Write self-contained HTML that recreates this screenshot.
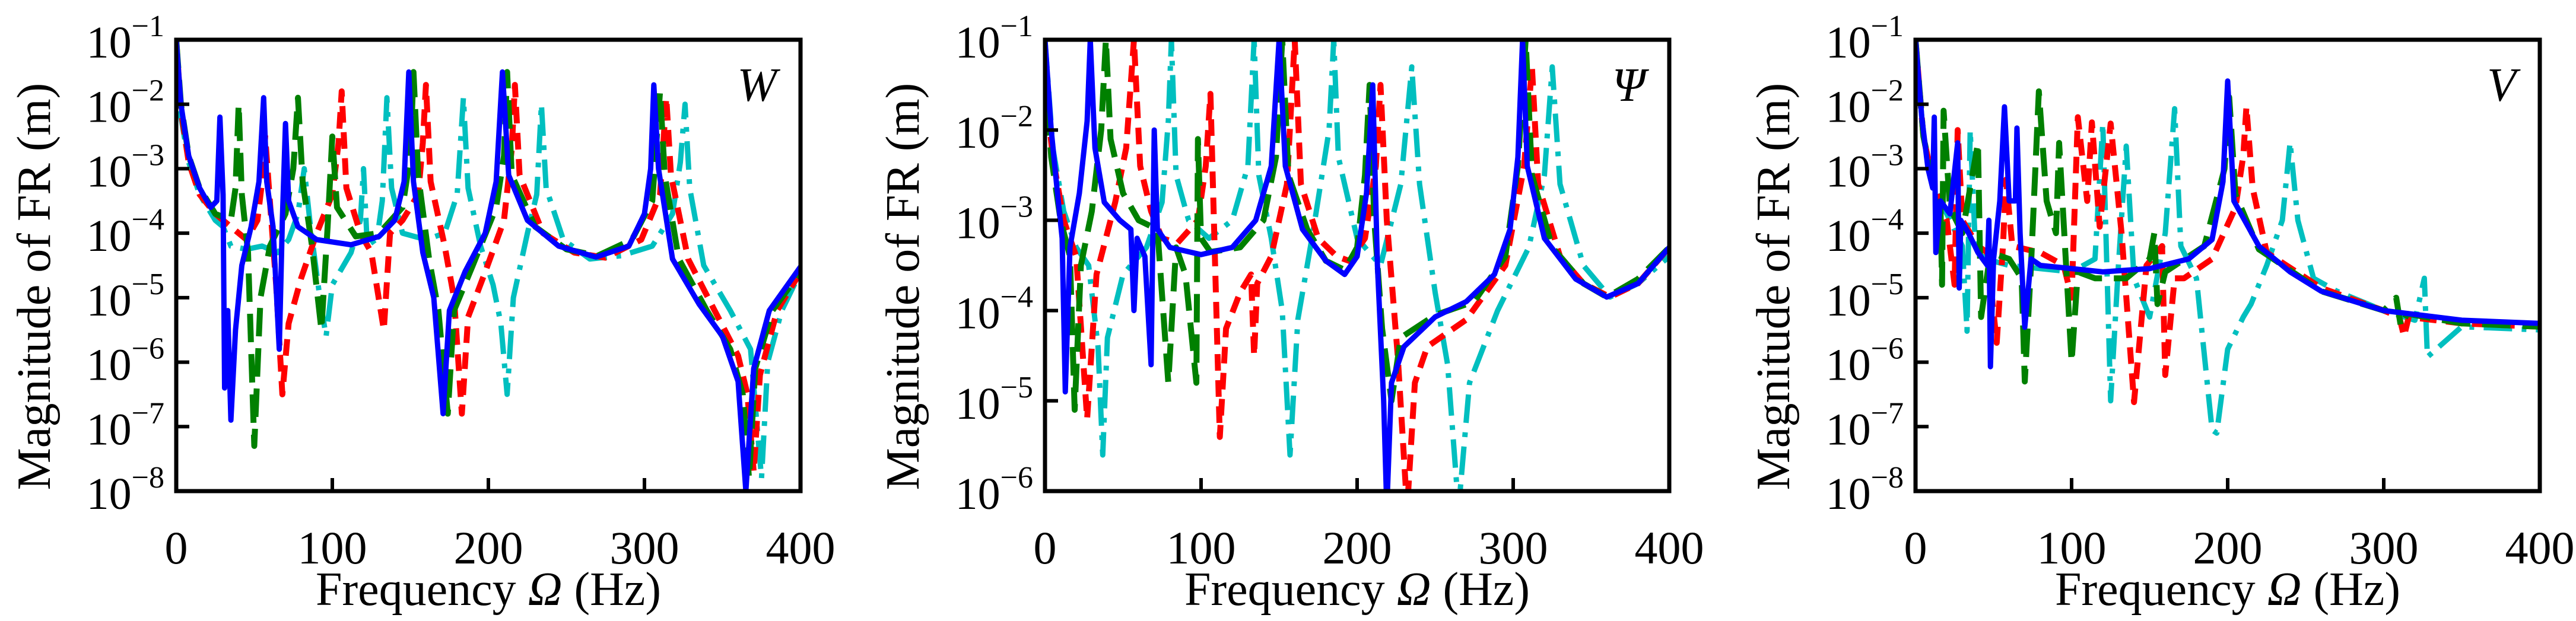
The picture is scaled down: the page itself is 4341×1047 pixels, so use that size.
<!DOCTYPE html>
<html><head><meta charset="utf-8"><style>
html,body{margin:0;padding:0;background:#fff;}
svg{display:block;font-family:"Liberation Serif",serif;}
</style></head><body>
<svg id="fig" width="4341" height="1047" viewBox="0 0 4341 1047" xmlns="http://www.w3.org/2000/svg"></svg>
<script>
// ---- Panel W (exponents of magnitude, log10) ----
const wBlueF=[0,3,8,15,22,26,28,30,31,33,35,38,42,48,53,56,58,62,66,68,70,72,78,90,112,130,140,146,149,152,158,165,171,175,185,198,205,209,213,225,245,269,290,300,304,306,309,318,335,350,360,365,370,380,400];
const wBlueV=[-1,-2,-2.8,-3.3,-3.6,-3.5,-2.2,-3.4,-6.4,-5.2,-6.9,-5.5,-4.5,-3.9,-3.2,-1.9,-3.2,-3.9,-5.8,-3.8,-2.3,-3.5,-3.9,-4.1,-4.18,-4.05,-3.8,-3.2,-1.5,-3.2,-4.3,-5.0,-6.8,-5.2,-4.6,-4.0,-3.2,-1.5,-3.1,-3.8,-4.2,-4.37,-4.2,-3.7,-3.0,-1.7,-3.0,-4.4,-5.1,-5.6,-6.3,-8,-6.1,-5.2,-4.52];
const wGreenF=[0,3,8,15,25,35,38,40,42,46,50,54,60,70,75,78,81,87,93,97,100,103,115,130,145,150,152,155,162,168,174,178,190,205,210,212,215,230,250,270,292,305,310,313,322,340,355,363,367,371,382,400];
const wGreenV=[-1,-2,-2.8,-3.3,-3.7,-3.8,-3.3,-2.0,-3.4,-4.3,-7.3,-5.0,-4.2,-3.7,-3.0,-1.9,-3.2,-4.2,-5.5,-3.9,-2.5,-3.6,-4.05,-4.0,-3.6,-2.8,-1.5,-3.1,-4.4,-5.2,-6.8,-5.2,-4.5,-3.6,-2.8,-1.5,-3.1,-3.9,-4.25,-4.35,-4.1,-3.5,-1.8,-3.1,-4.4,-5.2,-5.8,-6.5,-7.8,-6.1,-5.2,-4.6];
const wRedF=[0,3,8,15,25,35,45,52,55,57,60,64,68,72,80,90,100,104,106,109,118,125,133,137,145,155,158,160,163,172,178,183,187,198,210,215,217,220,235,255,275,298,310,314,317,328,345,360,366,370,374,385,400];
const wRedV=[-1,-2.1,-2.9,-3.4,-3.7,-3.9,-4.1,-3.8,-3.2,-2.5,-3.5,-4.8,-6.5,-5.4,-4.7,-4.0,-3.4,-2.6,-1.8,-3.3,-4.0,-4.3,-5.5,-4.0,-3.8,-3.4,-2.6,-1.7,-3.2,-4.2,-5.0,-6.8,-5.3,-4.6,-3.8,-2.7,-1.7,-3.1,-4.0,-4.3,-4.38,-4.1,-3.4,-1.9,-3.1,-4.4,-5.2,-5.9,-6.5,-7.7,-6.2,-5.2,-4.6];
const wCyanF=[0,3,8,15,25,30,35,45,55,65,72,78,82,86,92,96,100,112,118,120,122,128,132,135,138,145,160,172,180,184,187,195,203,208,212,216,225,231,234,237,248,265,285,305,318,323,326,329,338,355,368,375,379,388,400];
const wCyanV=[-1.3,-2.2,-2.9,-3.4,-3.8,-3.9,-4.2,-4.25,-4.2,-4.3,-4.1,-3.7,-3.0,-3.9,-5.0,-5.6,-4.8,-4.3,-3.8,-3.0,-4.0,-4.2,-3.5,-1.9,-3.3,-4.0,-4.1,-4.0,-3.4,-1.9,-3.3,-4.2,-4.8,-5.4,-6.5,-5.0,-4.0,-3.4,-2.0,-3.3,-4.1,-4.4,-4.35,-4.2,-3.7,-2.9,-2.0,-3.3,-4.5,-5.2,-5.8,-7.8,-6.0,-5.2,-4.6];
// ---- Panel Psi ----
const pBlueF=[0,4,8,11,13,16,22,27,29,32,38,48,55,57,59,64,68,70,72,80,100,120,135,145,150,154,165,180,192,200,206,210,213,217,219,222,230,250,270,288,298,303,306,309,320,340,360,380,400];
const pBlueV=[-1,-2.0,-2.7,-3.2,-4.9,-3.3,-2.7,-1.9,-1,-2.2,-2.8,-3.0,-3.1,-4.0,-3.2,-3.4,-4.6,-2.0,-3.1,-3.3,-3.38,-3.3,-3.0,-2.4,-1,-2.4,-3.1,-3.45,-3.6,-3.4,-2.7,-1.5,-3.5,-5.0,-6.2,-4.8,-4.4,-4.07,-3.9,-3.6,-3.1,-2.3,-1,-2.4,-3.2,-3.65,-3.85,-3.7,-3.3];
const pGreenF=[0,4,10,16,19,23,30,36,39,42,50,60,72,79,84,90,97,98,100,106,125,140,148,152,156,168,180,192,200,205,208,211,216,222,228,250,275,295,303,308,312,325,345,360,380,400];
const pGreenV=[-1.3,-2.3,-3.0,-3.4,-5.1,-3.5,-2.9,-2.0,-1,-2.1,-2.7,-3.0,-3.1,-4.8,-3.3,-3.6,-4.8,-2.1,-3.2,-3.35,-3.3,-3.0,-2.3,-1,-2.5,-3.1,-3.45,-3.55,-3.3,-2.5,-1.5,-3.0,-4.2,-5.0,-4.3,-4.05,-3.9,-3.4,-2.4,-1,-2.5,-3.3,-3.7,-3.85,-3.65,-3.3];
const pRedF=[0,5,12,20,27,33,45,52,57,61,68,75,85,98,103,106,109,112,116,125,132,134,136,145,155,160,164,175,187,195,205,212,215,219,226,232,237,245,270,295,307,312,316,330,345,362,380,400];
const pRedV=[-1.5,-2.3,-3.0,-3.4,-5.2,-3.6,-2.8,-2.2,-1,-2.4,-2.9,-3.2,-3.25,-3.0,-2.4,-1.6,-3.5,-5.4,-4.2,-3.8,-3.6,-4.5,-3.7,-3.4,-2.6,-1,-2.6,-3.2,-3.4,-3.45,-3.2,-2.4,-1.5,-3.0,-4.5,-6.2,-4.8,-4.4,-4.1,-3.5,-2.4,-1.3,-2.6,-3.4,-3.7,-3.85,-3.7,-3.3];
const pCyanF=[0,5,12,20,28,34,37,40,50,65,75,79,81,84,92,105,120,130,134,137,145,152,157,162,172,182,185,188,200,215,228,235,240,250,258,265,272,290,310,320,325,330,345,362,380,400];
const pCyanV=[-1,-2.2,-2.9,-3.3,-3.5,-4.4,-5.6,-4.3,-3.6,-3.3,-2.8,-1.9,-1,-2.5,-3.0,-3.2,-3.0,-2.4,-1,-2.5,-3.2,-4.0,-5.6,-4.1,-3.1,-2.0,-1,-2.3,-3.2,-3.5,-2.6,-1.3,-2.6,-3.8,-4.6,-6.2,-4.8,-4.0,-3.3,-2.5,-1.3,-2.6,-3.5,-3.85,-3.7,-3.4];
// ---- Panel V ----
const vBlueF=[0,4,8,11,12,13,16,22,27,28,29,34,40,46,47,48,50,54,57,60,64,65,67,70,74,80,100,120,150,175,190,197,200,204,220,240,260,300,350,400];
const vBlueV=[-1,-2.2,-3.0,-3.3,-2.2,-4.3,-3.5,-3.7,-2.6,-4.85,-3.8,-4.0,-4.3,-4.5,-3.8,-6.07,-4.4,-3.5,-2.04,-3.5,-3.5,-2.37,-4.0,-5.46,-4.4,-4.5,-4.55,-4.6,-4.55,-4.4,-4.1,-3.2,-1.64,-3.5,-4.2,-4.6,-4.9,-5.2,-5.35,-5.4];
const vGreenF=[0,5,12,16,17,18,22,30,40,42,48,60,68,70,74,79,84,90,92,96,100,104,115,135,150,153,155,160,185,198,201,205,220,260,300,308,311,315,350,400];
const vGreenV=[-1,-2.5,-3.3,-3.6,-4.8,-2.1,-3.6,-4.0,-2.6,-5.3,-4.3,-4.4,-4.7,-6.3,-4.5,-1.8,-3.5,-4.0,-2.6,-4.3,-6.0,-4.6,-4.7,-4.7,-4.4,-4.0,-5.1,-4.6,-4.2,-3.0,-1.89,-3.4,-4.25,-4.9,-5.2,-5.0,-5.45,-5.25,-5.4,-5.45];
const vRedF=[0,5,12,20,25,27,30,40,46,52,56,58,62,80,95,100,104,110,113,118,125,132,140,148,158,160,166,172,190,205,210,212,216,225,260,300,310,313,316,350,400];
const vRedV=[-1,-2.5,-3.3,-3.8,-4.8,-2.4,-3.8,-4.2,-4.3,-5.7,-4.2,-3.17,-4.2,-4.3,-4.5,-5.0,-2.2,-3.5,-2.28,-3.9,-2.3,-4.0,-6.62,-4.5,-4.2,-6.2,-4.7,-4.7,-4.4,-3.6,-2.8,-2.04,-3.3,-4.3,-4.85,-5.2,-5.3,-5.6,-5.3,-5.4,-5.45];
const vCyanF=[0,5,12,20,30,33,35,38,45,60,80,100,115,120,125,130,135,140,150,160,166,170,180,190,193,200,210,215,225,235,240,245,255,270,300,320,326,328,350,400];
const vCyanV=[-1,-2.5,-3.3,-3.7,-4.2,-5.52,-2.4,-4.0,-4.4,-4.5,-4.55,-4.6,-4.4,-2.3,-6.6,-4.5,-2.65,-4.7,-5.3,-4.0,-2.07,-4.2,-4.7,-7.05,-7.1,-5.8,-5.3,-5.1,-4.5,-3.8,-2.59,-3.8,-4.7,-4.9,-5.2,-5.35,-4.7,-5.92,-5.45,-5.5];

const panels=[
 {id:'w',x0:297,label:'W',yMin:-8,series:[[wCyanF,wCyanV,'cyan'],[wRedF,wRedV,'red'],[wGreenF,wGreenV,'green'],[wBlueF,wBlueV,'blue']]},
 {id:'psi',x0:1761,label:'Ψ',yMin:-6,series:[[pCyanF,pCyanV,'cyan'],[pRedF,pRedV,'red'],[pGreenF,pGreenV,'green'],[pBlueF,pBlueV,'blue']]},
 {id:'v',x0:3228,label:'V',yMin:-8,series:[[vCyanF,vCyanV,'cyan'],[vRedF,vRedV,'red'],[vGreenF,vGreenV,'green'],[vBlueF,vBlueV,'blue']]}
];
const xTicks=[0,100,200,300,400];
const styles={blue:{c:'#0000ff',d:'none',w:9},green:{c:'#008000',d:'48 20',w:10},red:{c:'#ff0000',d:'28 16',w:10},cyan:{c:'#00bfbf',d:'48 16 8 16',w:9}};
const NS='http://www.w3.org/2000/svg';
const svg=document.getElementById('fig');
const W=1052,Y0=67,Y1=828;
function mk(tag,attrs,parent){const e=document.createElementNS(NS,tag);for(const k in attrs)e.setAttribute(k,attrs[k]);(parent||svg).appendChild(e);return e;}
panels.forEach(p=>{
  const g=mk('g',{});
  
  
  const xs=f=>p.x0+f/400*W;
  const ys=v=>Y0+(-1-v)/(-1-p.yMin)*(Y1-Y0);
  const cp=mk('clipPath',{id:'clip-'+p.id},g);
  mk('rect',{x:p.x0,y:Y0,width:W,height:Y1-Y0},cp);
  const sg=mk('g',{'clip-path':'url(#clip-'+p.id+')'},g);
  p.series.forEach(s=>{
    const st=styles[s[2]];
    let d='';
    s[0].forEach((f,i)=>{d+=(i?'L':'M')+xs(f).toFixed(1)+' '+ys(s[1][i]).toFixed(1);});
    const path=mk('path',{d:d,fill:'none',stroke:st.c,'stroke-width':st.w,'stroke-dasharray':st.d,'stroke-linejoin':'round'},sg);
    
    
  });
  const frame=mk('rect',{x:p.x0,y:Y0,width:W,height:Y1-Y0,fill:'none',stroke:'#000','stroke-width':7},g);
  
  
  xTicks.forEach(t=>{
    if(t>0&&t<400) mk('line',{x1:xs(t),x2:xs(t),y1:Y1,y2:Y1-22,stroke:'#000','stroke-width':6},g);
    const tl=mk('text',{x:xs(t),y:950,'font-size':78,'text-anchor':'middle'},g);
    tl.textContent=t;
    
    
  });
  for(let e=-1;e>=p.yMin;e--){
    const y=ys(e);
    if(e<-1&&e>p.yMin) mk('line',{x1:p.x0,x2:p.x0+22,y1:y,y2:y,stroke:'#000','stroke-width':6},g);
    const tl=mk('text',{x:p.x0-20,y:y+30,'font-size':76,'text-anchor':'end'},g);
    
    
    const t1=mk('tspan',{},tl);t1.textContent='10';
    const t2=mk('tspan',{dy:-36,'font-size':52},tl);t2.textContent='−'+(-e);
  }
  const yt=mk('text',{x:0,y:0,'font-size':80,'text-anchor':'middle',transform:'translate('+(p.x0-213)+',483) rotate(-90)'},g);
  yt.textContent='Magnitude of FR (m)';
  
  
  const xt=mk('text',{x:p.x0+W/2,y:1020,'font-size':80,'text-anchor':'middle'},g);
  
  
  const a=mk('tspan',{},xt);a.textContent='Frequency ';
  const b=mk('tspan',{'font-style':'italic'},xt);b.textContent='Ω';
  const c=mk('tspan',{},xt);c.textContent=' (Hz)';
  const pl=mk('text',{x:p.x0+W-40,y:170,'font-size':80,'font-style':'italic','text-anchor':'end'},g);
  pl.textContent=p.label;
  
  
});
</script>
</body></html>
